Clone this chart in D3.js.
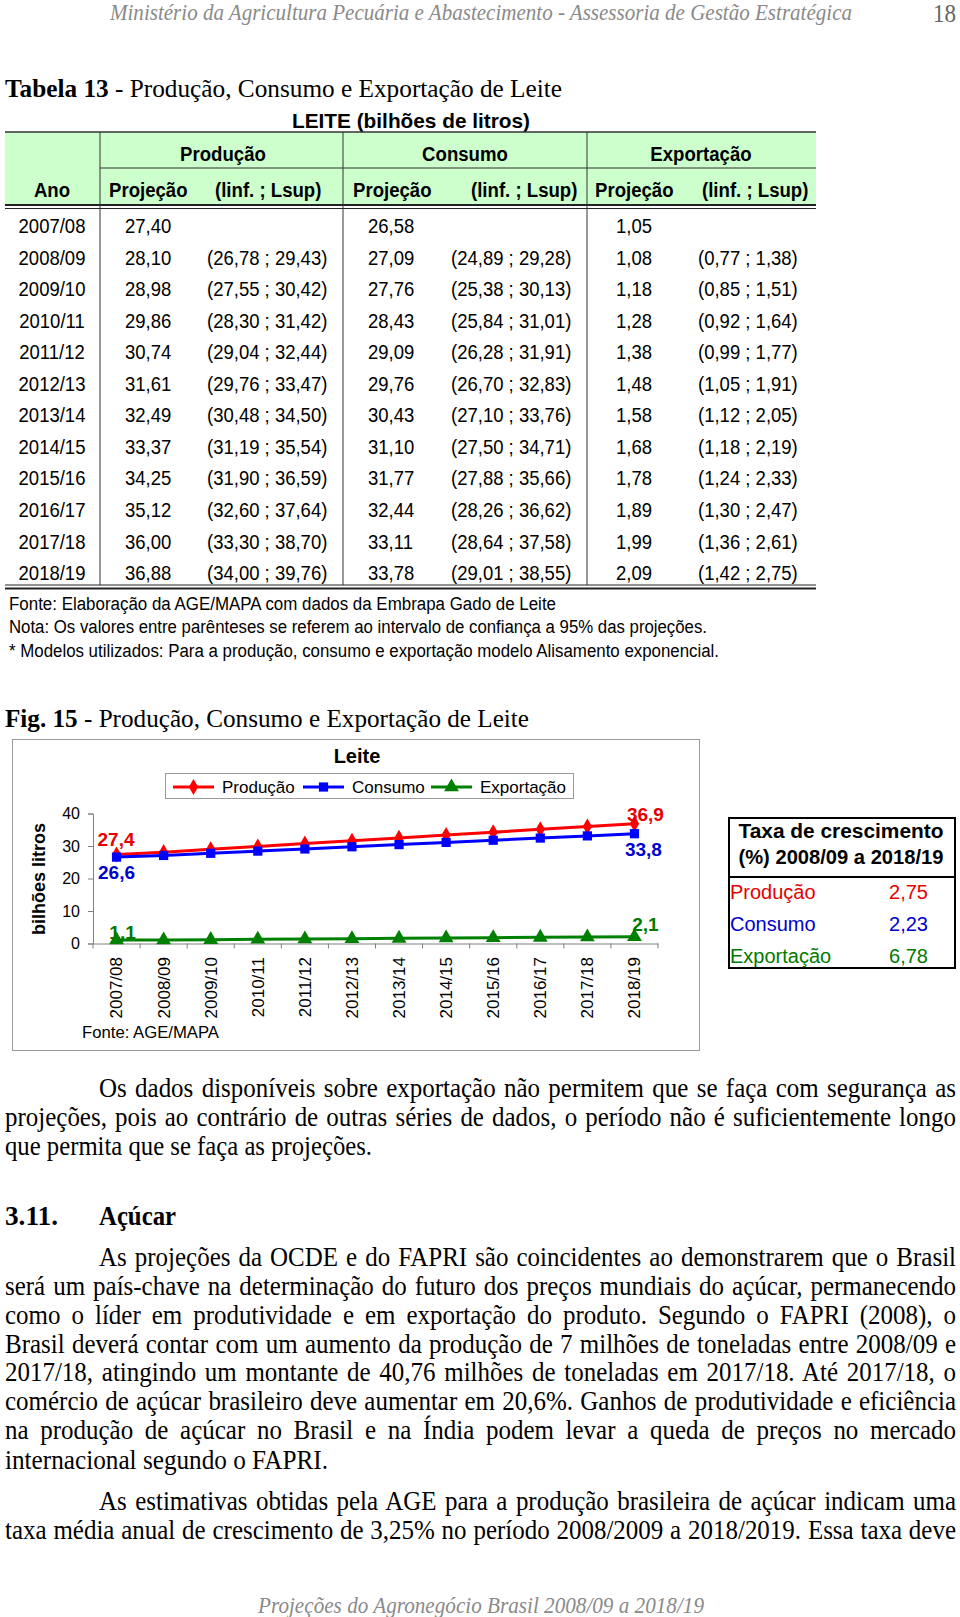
<!DOCTYPE html>
<html><head><meta charset="utf-8">
<script src="https://cdn.jsdelivr.net/npm/d3@7/dist/d3.min.js"></script>
<style>html,body{margin:0;padding:0;background:#fff;}svg{display:block;}</style>
</head><body>
<script>
// ---------- DATA ----------
const years = ["2007/08","2008/09","2009/10","2010/11","2011/12","2012/13","2013/14","2014/15","2015/16","2016/17","2017/18","2018/19"];
const producao    = [27.40,28.10,28.98,29.86,30.74,31.61,32.49,33.37,34.25,35.12,36.00,36.88];
const producaoInf = [null,26.78,27.55,28.30,29.04,29.76,30.48,31.19,31.90,32.60,33.30,34.00];
const producaoSup = [null,29.43,30.42,31.42,32.44,33.47,34.50,35.54,36.59,37.64,38.70,39.76];
const consumo     = [26.58,27.09,27.76,28.43,29.09,29.76,30.43,31.10,31.77,32.44,33.11,33.78];
const consumoInf  = [null,24.89,25.38,25.84,26.28,26.70,27.10,27.50,27.88,28.26,28.64,29.01];
const consumoSup  = [null,29.28,30.13,31.01,31.91,32.83,33.76,34.71,35.66,36.62,37.58,38.55];
const exportacao    = [1.05,1.08,1.18,1.28,1.38,1.48,1.58,1.68,1.78,1.89,1.99,2.09];
const exportacaoInf = [null,0.77,0.85,0.92,0.99,1.05,1.12,1.18,1.24,1.30,1.36,1.42];
const exportacaoSup = [null,1.38,1.51,1.64,1.77,1.91,2.05,2.19,2.33,2.47,2.61,2.75];
const yTicks = [0,10,20,30,40];
const seriesNames = ["Produção","Consumo","Exportação"];
const growthValues = [2.75,2.23,6.78];

// ---------- SETUP ----------
const W = 960, H = 1617;
const serif = "'Liberation Serif','Times New Roman',serif";
const sans = "'Liberation Sans',Arial,Helvetica,sans-serif";
const svg = d3.select("body").append("svg").attr("width",W).attr("height",H);
svg.append("rect").attr("width",W).attr("height",H).attr("fill","#fff");
const fmt2 = v => d3.format(".2f")(v).replace(".",",");
const fmt1 = v => d3.format(".1f")(v).replace(".",",");

function txt(g, s, x, y, o={}) {
  const t = g.append("text").attr("x",x).attr("y",y).attr("dy", o.dy ?? "0.35em")
    .attr("font-family", o.ff||sans).attr("font-size", o.fs||16).attr("fill", o.fill||"#000")
    .attr("font-weight", o.fw||"normal").attr("font-style", o.fst||"normal")
    .attr("text-anchor", o.anchor||"start").text(s);
  if (o.w) t.attr("textLength", o.w).attr("lengthAdjust","spacingAndGlyphs");
  else if (o.k) t.attr("textLength", t.node().getComputedTextLength()*o.k).attr("lengthAdjust","spacingAndGlyphs");
  return t;
}
function line(g,x1,y1,x2,y2,stroke="#000",sw=1){
  return g.append("line").attr("x1",x1).attr("y1",y1).attr("x2",x2).attr("y2",y2).attr("stroke",stroke).attr("stroke-width",sw);
}
// justified body lines
const bodyFs = 27, bodyK = 0.925;
function bodyLine(g, s, x, y, width, justify, fw) {
  const t = g.append("text").attr("x",0).attr("y",0).attr("dy","0.35em")
    .attr("font-family",serif).attr("font-size",bodyFs).attr("font-weight",fw||"normal")
    .attr("transform",`translate(${x},${y}) scale(${bodyK},1)`).text(s);
  const w = t.node().getComputedTextLength();
  const n = (s.match(/ /g)||[]).length;
  if (justify && n>0) t.style("word-spacing", ((width/bodyK - w)/n) + "px");
  else if (width) t.attr("textLength", width/bodyK).attr("lengthAdjust","spacingAndGlyphs");
  return t;
}

// ---------- PAGE HEADER ----------
txt(svg,"Ministério da Agricultura Pecuária e Abastecimento - Assessoria de Gestão Estratégica",110,12,{ff:serif,fs:23,fst:"italic",fill:"#8a8a8a",w:742});
txt(svg,"18",956,13,{ff:serif,fs:26,fill:"#666",anchor:"end",w:23});

// ---------- TABLE ----------
const tb = svg.append("g");
const title = tb.append("text").attr("x",5).attr("y",88).attr("dy","0.35em").attr("font-family",serif).attr("font-size",26)
  .attr("textLength",557).attr("lengthAdjust","spacingAndGlyphs");
title.append("tspan").attr("font-weight","bold").text("Tabela 13");
title.append("tspan").text(" - Produção, Consumo e Exportação de Leite");
txt(tb,"LEITE (bilhões de litros)",411,121,{fs:21,fw:"bold",anchor:"middle",w:238});

const tL = 5, tR = 816, hTop = 132, hMid = 168, hBot = 205, dBot = 585;
tb.append("rect").attr("x",tL).attr("y",hTop).attr("width",tR-tL).attr("height",hBot-hTop).attr("fill","#ccffcc");
line(tb,tL,hTop,tR,hTop,"#333",1.5);
line(tb,100,hMid,tR,hMid,"#333",1);
line(tb,tL,hBot,tR,hBot,"#222",2);
line(tb,tL,hBot+3.5,tR,hBot+3.5,"#222",1);
[100,343,587].forEach(x=>line(tb,x,hTop,x,dBot,"#333",1));
line(tb,tL,dBot,tR,dBot,"#222",1);
line(tb,tL,dBot+3.5,tR,dBot+3.5,"#222",2);

const groupCenters = [223,465,701];
seriesNames.forEach((s,i)=>txt(tb,s,groupCenters[i],154,{fs:20,fw:"bold",anchor:"middle",k:0.93}));
txt(tb,"Ano",52,190,{fs:20,fw:"bold",anchor:"middle",k:0.93});
const projX = [109,353,595], intX = [215,471,702];
projX.forEach(x=>txt(tb,"Projeção",x,190,{fs:20,fw:"bold",k:0.93}));
intX.forEach(x=>txt(tb,"(linf. ; Lsup)",x,190,{fs:20,fw:"bold",k:0.93}));

const rowY = i => 226 + i*31.55;
const cols = [[producao,producaoInf,producaoSup],[consumo,consumoInf,consumoSup],[exportacao,exportacaoInf,exportacaoSup]];
const valX = [125,368,616], ivX = [207,451,698];
years.forEach((yr,i)=>{
  txt(tb,yr,52,rowY(i),{fs:20,anchor:"middle",k:0.925});
  cols.forEach((c,j)=>{
    txt(tb,fmt2(c[0][i]),valX[j],rowY(i),{fs:20,k:0.925});
    if (c[1][i]!=null) txt(tb,`(${fmt2(c[1][i])} ; ${fmt2(c[2][i])})`,ivX[j],rowY(i),{fs:20,k:0.925});
  });
});
txt(tb,"Fonte: Elaboração da AGE/MAPA com dados da Embrapa Gado de Leite",9,604,{fs:18,w:547});
txt(tb,"Nota: Os valores entre parênteses se referem ao intervalo de confiança a 95% das projeções.",9,627,{fs:18,w:698});
txt(tb,"* Modelos utilizados: Para a produção, consumo e exportação modelo Alisamento exponencial.",9,651,{fs:18,w:710});

// ---------- FIGURE ----------
const ft = svg.append("text").attr("x",5).attr("y",718).attr("dy","0.35em").attr("font-family",serif).attr("font-size",26)
  .attr("textLength",524).attr("lengthAdjust","spacingAndGlyphs");
ft.append("tspan").attr("font-weight","bold").text("Fig. 15");
ft.append("tspan").text(" - Produção, Consumo e Exportação de Leite");

const ch = svg.append("g");
ch.append("rect").attr("x",12.5).attr("y",739.5).attr("width",687).attr("height",311).attr("fill","#fff").attr("stroke","#9a9a9a").attr("stroke-width",1);
txt(ch,"Leite",357,756,{fs:20,fw:"bold",anchor:"middle"});

const colors = ["#ff0000","#0000ff","#008000"];
const labelColors = ["#e60000","#0000cc","#007a00"];
const symbols = [d3.symbolDiamond,d3.symbolSquare,d3.symbolTriangle];
const symSizes = [75,85,95];
const data = [producao,consumo,exportacao];

const x = d3.scaleBand().domain(years).range([93,658]);
const y = d3.scaleLinear().domain([0,40]).range([943.5,813.5]);
const cx = d => x(d)+x.bandwidth()/2;

// legend
ch.append("rect").attr("x",165.5).attr("y",773.5).attr("width",408).attr("height",25).attr("fill","#fff").attr("stroke","#9a9a9a");
const legX = [173,303,431];
seriesNames.forEach((s,i)=>{
  line(ch,legX[i],787,legX[i]+41,787,colors[i],3);
  ch.append("path").attr("d",d3.symbol(symbols[i],symSizes[i])()).attr("transform",`translate(${legX[i]+20.5},787)`).attr("fill",colors[i]);
  txt(ch,s,legX[i]+49,787,{fs:17});
});

// axes
const ya = ch.append("g").attr("transform","translate(93,0)")
  .call(d3.axisLeft(y).tickValues(yTicks).tickSize(5).tickFormat(d3.format("d")));
ya.select(".domain").attr("stroke","#808080");
ya.selectAll(".tick line").attr("stroke","#808080");
ya.selectAll(".tick text").attr("font-family",sans).attr("font-size",16).attr("fill","#000").attr("x",-13);

const xa = ch.append("g").attr("transform","translate(0,943.5)")
  .call(d3.axisBottom(x).tickSize(0).tickSizeOuter(0));
xa.select(".domain").attr("stroke","#808080");
xa.selectAll(".tick text").attr("font-family",sans).attr("font-size",17).attr("fill","#000")
  .attr("transform","rotate(-90)").attr("text-anchor","end").attr("x",-13.5).attr("y",0).attr("dy","0.35em");
d3.range(years.length+1).forEach(i=>{
  const xx = 93 + i*x.step();
  line(ch,xx,943.5,xx,948.5,"#808080",1);
});

txt(ch,"bilhões litros",0,0,{fs:18,fw:"bold",anchor:"middle"}).attr("transform","translate(39,879) rotate(-90)");
txt(ch,"Fonte: AGE/MAPA",82,1032,{fs:17,w:137});

// lines + markers
data.forEach((vals,i)=>{
  const pts = years.map((yr,j)=>[cx(yr),y(vals[j])]);
  ch.append("path").attr("d",d3.line()(pts)).attr("fill","none").attr("stroke",colors[i]).attr("stroke-width",3);
  ch.selectAll(null).data(pts).enter().append("path")
    .attr("d",d3.symbol(symbols[i],symSizes[i])()).attr("transform",p=>`translate(${p[0]},${p[1]})`).attr("fill",colors[i]);
});
// end labels
const first = years[0], last = years[years.length-1];
const lblOff = [[-0.5,-15.5,11,-9],[0,15,9,16],[6,-8,11,-12]]; // [dxFirst, dyFirst, dxLast, dyLast]
data.forEach((vals,i)=>{
  const o = lblOff[i];
  txt(ch,fmt1(vals[0]),cx(first)+o[0],y(vals[0])+o[1],{fs:19,fw:"bold",anchor:"middle",fill:labelColors[i]});
  txt(ch,fmt1(vals[vals.length-1]),cx(last)+o[2],y(vals[vals.length-1])+o[3],{fs:19,fw:"bold",anchor:"middle",fill:labelColors[i]});
});

// growth box
const gb = svg.append("g");
gb.append("rect").attr("x",729).attr("y",818).attr("width",226).attr("height",150).attr("fill","#fff").attr("stroke","#000").attr("stroke-width",2);
line(gb,729,877,955,877,"#000",2);
txt(gb,"Taxa de crescimento",841,831,{fs:20,fw:"bold",anchor:"middle",w:205});
txt(gb,"(%) 2008/09 a 2018/19",841,857,{fs:20,fw:"bold",anchor:"middle",w:205});
const gRowY = [892,924,956];
seriesNames.forEach((s,i)=>{
  txt(gb,s,730,gRowY[i],{fs:20,fill:labelColors[i]});
  txt(gb,fmt2(growthValues[i]),928,gRowY[i],{fs:20,fill:labelColors[i],anchor:"end"});
});

// ---------- BODY TEXT ----------
const bt = svg.append("g");
const R = 956;
bodyLine(bt,"Os dados disponíveis sobre exportação não permitem que se faça com segurança as",99,1088,R-99,true);
bodyLine(bt,"projeções, pois ao contrário de outras séries de dados, o período não é suficientemente longo",5,1117,R-5,true);
bodyLine(bt,"que permita que se faça as projeções.",5,1146,367,false);

bodyLine(bt,"3.11.",5,1216,53,false,"bold");
bodyLine(bt,"Açúcar",99,1216,77,false,"bold");

const p2 = [
 "As projeções da OCDE e do FAPRI são coincidentes ao demonstrarem que o Brasil",
 "será um país-chave na determinação do futuro dos preços mundiais do açúcar, permanecendo",
 "como o líder em produtividade e em exportação do produto. Segundo o FAPRI (2008), o",
 "Brasil deverá contar com um aumento da produção de 7 milhões de toneladas entre 2008/09 e",
 "2017/18, atingindo um montante de 40,76 milhões de toneladas em 2017/18. Até 2017/18, o",
 "comércio de açúcar brasileiro deve aumentar em 20,6%. Ganhos de produtividade e eficiência",
 "na produção de açúcar no Brasil e na Índia podem levar a queda de preços no mercado",
 "internacional segundo o FAPRI."
];
const p2Y = [1257,1286,1315,1344,1372,1401,1430,1460];
p2.forEach((s,i)=>{
  if (i===0) bodyLine(bt,s,99,p2Y[i],R-99,true);
  else if (i===p2.length-1) bodyLine(bt,s,5,p2Y[i],323,false);
  else bodyLine(bt,s,5,p2Y[i],R-5,true);
});
bodyLine(bt,"As estimativas obtidas pela AGE para a produção brasileira de açúcar indicam uma",99,1501,R-99,true);
bodyLine(bt,"taxa média anual de crescimento de 3,25% no período 2008/2009 a 2018/2019. Essa taxa deve",5,1530,R-5,true);

// ---------- FOOTER ----------
txt(svg,"Projeções do Agronegócio Brasil 2008/09 a 2018/19",481,1605,{ff:serif,fs:23,fst:"italic",fill:"#8a8a8a",anchor:"middle",w:446});
</script>
</body></html>
